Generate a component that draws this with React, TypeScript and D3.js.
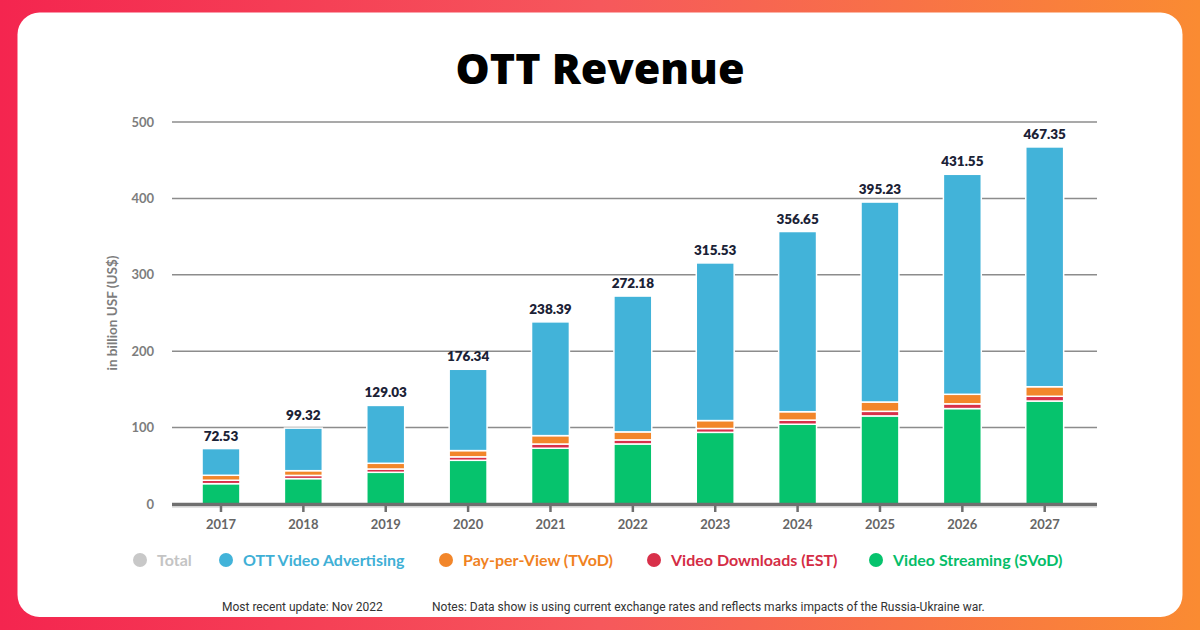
import * as d3 from "d3";

// OTT revenue by segment, billion US$
const years = ["2017", "2018", "2019", "2020", "2021", "2022", "2023", "2024", "2025", "2026", "2027"];
const totals = [72.53, 99.32, 129.03, 176.34, 238.39, 272.18, 315.53, 356.65, 395.23, 431.55, 467.35];
const streaming = [26.6, 33.2, 41.5, 57.2, 73.0, 78.6, 93.8, 104.4, 115.3, 124.9, 134.8];
const downloads = [4.5, 4.2, 4.3, 4.5, 5.5, 5.3, 5.0, 5.4, 6.0, 6.2, 6.2];
const payPerView = [6.5, 6.2, 7.5, 8.2, 11.0, 10.5, 10.4, 11.0, 12.2, 12.5, 12.5];
const advertising = [34.93, 55.72, 75.73, 106.44, 148.89, 177.78, 206.33, 235.85, 261.73, 287.95, 313.85];
const yTicks = [0, 100, 200, 300, 400, 500];

const COLORS = {
  advertising: "#42b3d9",
  payPerView: "#f2862a",
  downloads: "#d8304a",
  streaming: "#06c36d",
  total: "#c8c8c8",
};

const series = [
  { key: "streaming", values: streaming, color: COLORS.streaming },
  { key: "downloads", values: downloads, color: COLORS.downloads },
  { key: "payPerView", values: payPerView, color: COLORS.payPerView },
  { key: "advertising", values: advertising, color: COLORS.advertising },
];

const legend = [
  { label: "Total", color: COLORS.total, textColor: "#c4c4c4", x: 140 },
  { label: "OTT Video Advertising", color: COLORS.advertising, textColor: "#3fb0d6", x: 226 },
  { label: "Pay-per-View (TVoD)", color: COLORS.payPerView, textColor: "#f0821f", x: 446 },
  { label: "Video Downloads (EST)", color: COLORS.downloads, textColor: "#d42c45", x: 654 },
  { label: "Video Streaming (SVoD)", color: COLORS.streaming, textColor: "#05bd69", x: 876 },
];

const W = 1200;
const H = 630;
const FONT = "Lato, 'Open Sans', sans-serif";
const NARROW = "'Liberation Sans Narrow', Roboto, sans-serif";

export default function App() {
  const x = d3
    .scaleBand<string>()
    .domain(years)
    .range([179.8, 1085.9])
    .paddingInner(0.54)
    .paddingOuter(0.27);
  const y = d3.scaleLinear().domain([0, 500]).range([504, 122]);

  const rows = years.map((yr, i) => {
    const obj: Record<string, number | string> = { year: yr };
    series.forEach((s) => (obj[s.key] = s.values[i]));
    return obj;
  });
  const stacked = d3.stack<Record<string, number | string>>().keys(series.map((s) => s.key))(rows as any);

  return (
    <svg
      width={W}
      height={H}
      style={{ position: "absolute", left: 0, top: 0, display: "block" }}
      fontFamily={FONT}
    >
      <defs>
        <linearGradient id="bg" x1="0" y1="0" x2="1" y2="0">
          <stop offset="0%" stopColor="#f4254f" />
          <stop offset="50%" stopColor="#f6585c" />
          <stop offset="100%" stopColor="#fa8b32" />
        </linearGradient>
      </defs>
      <rect width={W} height={H} fill="url(#bg)" />
      <rect x={17.5} y={12.5} width={1165} height={604.5} rx={22} fill="#ffffff" />

      <text
        x={600}
        y={84}
        textAnchor="middle"
        fontSize={43}
        fontWeight={800}
        fill="#000"
        fontFamily="'Open Sans', Lato, sans-serif"
      >
        OTT Revenue
      </text>

      {/* grid + y labels */}
      {yTicks.map((t) => (
        <g key={t}>
          {t > 0 && <line x1={172} x2={1097} y1={y(t)} y2={y(t)} stroke="#8c8c8c" strokeWidth={1.5} />}
          <text
            x={154}
            y={y(t)}
            dy="0.35em"
            textAnchor="end"
            fontSize={13}
            fontWeight={700}
            fill="#7d7d7d"
          >
            {t}
          </text>
        </g>
      ))}

      <text
        transform={`translate(117,${y(250)}) rotate(-90)`}
        textAnchor="middle"
        fontSize={13.5}
        fontWeight={700}
        fill="#7d7d7d"
      >
        in billion USF (US$)
      </text>

      {/* stacked bars */}
      {stacked.map((layer, li) => (
        <g key={series[li].key} fill={series[li].color}>
          {layer.map((d, i) => (
            <rect
              key={years[i]}
              x={x(years[i])!}
              width={x.bandwidth()}
              y={y(d[1])}
              height={y(d[0]) - y(d[1])}
              stroke="#ffffff"
              strokeWidth={1.5}
            />
          ))}
        </g>
      ))}

      {/* baseline and ticks */}
      <line x1={172} x2={1097} y1={y(0) + 0.5} y2={y(0) + 0.5} stroke="#6f6f6f" strokeWidth={3.5} />
      <line x1={172} x2={1097} y1={y(0) + 3} y2={y(0) + 3} stroke="#c8c8c8" strokeWidth={1} />
      {years.map((yr) => (
        <line
          key={yr}
          x1={x(yr)! + x.bandwidth() / 2}
          x2={x(yr)! + x.bandwidth() / 2}
          y1={y(0)}
          y2={y(0) + 8}
          stroke="#6f6f6f"
          strokeWidth={2.5}
        />
      ))}
      {years.map((yr) => (
        <text
          key={yr}
          x={x(yr)! + x.bandwidth() / 2}
          y={529}
          textAnchor="middle"
          fontSize={13}
          fontWeight={700}
          fill="#666"
        >
          {yr}
        </text>
      ))}

      {/* totals */}
      {years.map((yr, i) => (
        <text
          key={yr}
          x={x(yr)! + x.bandwidth() / 2}
          y={y(totals[i]) - 8}
          textAnchor="middle"
          fontSize={13.5}
          fontWeight={800}
          fill="#1b2236"
        >
          {totals[i].toFixed(2)}
        </text>
      ))}

      {/* legend */}
      {legend.map((l) => (
        <g key={l.label}>
          <circle cx={l.x} cy={560} r={7} fill={l.color} />
          <text x={l.x + 17} y={560} dy="0.36em" fontSize={16} fontWeight={700} fill={l.textColor}>
            {l.label}
          </text>
        </g>
      ))}

      <text x={222} y={611} fontSize={12} fill="#333" fontFamily={NARROW}>
        Most recent update: Nov 2022
      </text>
      <text x={432} y={611} fontSize={12} fill="#333" fontFamily={NARROW}>
        Notes: Data show is using current exchange rates and reflects marks impacts of the Russia-Ukraine war.
      </text>
    </svg>
  );
}
